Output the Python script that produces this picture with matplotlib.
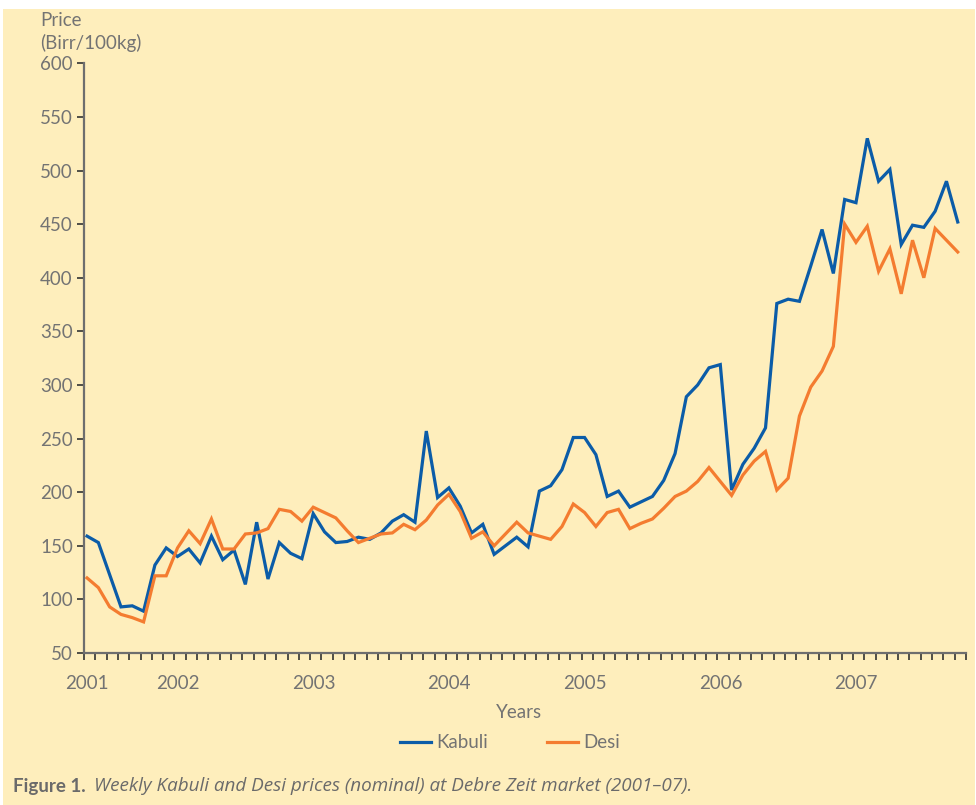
import numpy as np
import matplotlib
matplotlib.use('Agg')
import matplotlib.pyplot as plt
from matplotlib.patches import Rectangle
from matplotlib.lines import Line2D

# weekly prices, Birr/100kg
kabuli = [159, 153, 123, 93, 94, 89, 132, 148, 140, 147, 134, 159, 137, 146, 114, 172,
          119, 153, 143, 138, 180, 163, 153, 154, 158, 156, 162, 173, 179, 172, 257, 195,
          204, 187, 162, 170, 142, 150, 158, 149, 201, 206, 221, 251, 251, 235, 196, 201,
          186, 191, 196, 211, 236, 289, 300, 316, 319, 202, 226, 241, 260, 376, 380, 378,
          411, 445, 404, 473, 470, 530, 490, 501, 431, 449, 447, 462, 490, 452]
desi = [120, 111, 93, 86, 83, 79, 122, 122, 148, 164, 152, 175, 147, 147, 161, 162,
        166, 184, 182, 173, 186, 181, 176, 164, 153, 157, 161, 162, 170, 165, 174, 188,
        198, 182, 157, 163, 150, 161, 172, 162, 159, 156, 168, 189, 181, 168, 181, 184,
        166, 171, 175, 185, 196, 201, 210, 223, 210, 197, 216, 229, 238, 202, 213, 271,
        298, 313, 336, 450, 433, 448, 406, 427, 385, 435, 400, 446, 435, 424]
years = ['2001', '2002', '2003', '2004', '2005', '2006', '2007']
year_pos = [0, 8, 20, 32, 44, 56, 68]

BG = '#FEEEBC'
GREY = '#737373'
BLUE = '#0B5CA8'
ORANGE = '#F47C30'
plt.rcParams['font.family'] = ['Lato', 'DejaVu Sans']

W, H = 976, 805
fig = plt.figure(figsize=(9.76, 8.05), dpi=100, facecolor='white')
# yellow panel (thin white border at top/left like the original)
fig.patches.append(Rectangle((3 / W, 0), 972 / W, 796 / H, transform=fig.transFigure,
                             facecolor=BG, edgecolor='none', zorder=-10))

ax = fig.add_axes([84 / W, 152 / H, 882 / W, 589.7 / H])
ax.set_facecolor('none')

x = np.arange(len(kabuli)) + 0.27
ax.plot(x, kabuli, color=BLUE, lw=2.3, solid_joinstyle='miter')
ax.plot(x, desi, color=ORANGE, lw=2.3, solid_joinstyle='miter')

ax.set_xlim(0, 78)
ax.set_ylim(50, 600)
for s in ['top', 'right']:
    ax.spines[s].set_visible(False)
for s in ['left', 'bottom']:
    ax.spines[s].set_color('#6e6e6e')
    ax.spines[s].set_linewidth(1.6)

ax.set_yticks(range(50, 601, 50))
ax.tick_params(axis='y', length=5, width=1.2, color='#333333', pad=3,
               labelsize=13.5, labelcolor=GREY)
ax.set_xticks(np.arange(0, 79), minor=True)
ax.set_xticks([p + 0.3 for p in year_pos], years)
ax.tick_params(axis='x', which='minor', length=5, width=1.2, color='#333333')
ax.tick_params(axis='x', which='major', length=0, pad=16, labelsize=13.5, labelcolor=GREY)

fig.text(40 / W, 1 - 12 / H, 'Price\n(Birr/100kg)', ha='left', va='top',
         fontsize=13.5, color=GREY, linespacing=1.3)
fig.text(519 / W, 1 - 712 / H, 'Years', ha='center', va='center', fontsize=13.5, color=GREY)

# legend, drawn by hand to match the spacing
ly = 1 - 742 / H
fig.lines.append(Line2D([400 / W, 431 / W], [ly, ly], color=BLUE, lw=2.3, transform=fig.transFigure))
fig.text(436 / W, ly, 'Kabuli', ha='left', va='center', fontsize=13.5, color=GREY)
fig.lines.append(Line2D([547 / W, 578 / W], [ly, ly], color=ORANGE, lw=2.3, transform=fig.transFigure))
fig.text(583 / W, ly, 'Desi', ha='left', va='center', fontsize=13.5, color=GREY)

# caption
fig.text(13 / W, 1 - 786 / H, 'Figure 1.', ha='left', va='center', fontsize=13.5,
         color='#6a6a6a', fontweight='bold')
fig.text(94 / W, 1 - 786 / H,
         'Weekly Kabuli and Desi prices (nominal) at Debre Zeit market (2001\u201307).',
         ha='left', va='center', fontsize=13.6, color='#6a6a6a', style='italic',
         family=['Open Sans', 'DejaVu Sans'])

fig.savefig('out.png', dpi=100, facecolor='white')
